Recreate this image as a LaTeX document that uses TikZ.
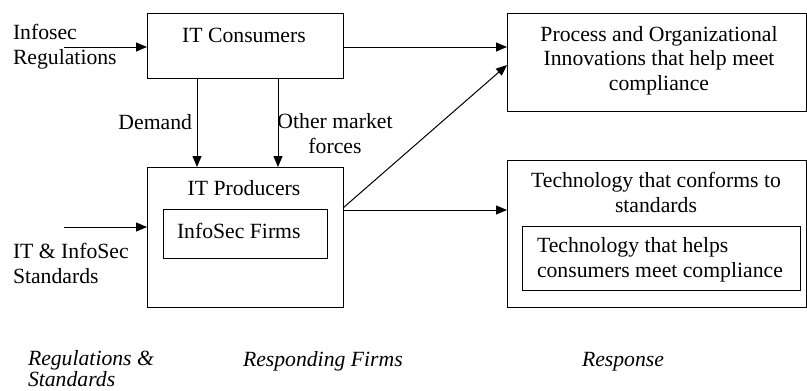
\documentclass[tikz,border=0pt]{standalone}
\usepackage{fontspec}
\setmainfont{Liberation Serif}
\usetikzlibrary{arrows.meta}
\begin{document}
\begin{tikzpicture}[x=1pt,y=-1pt,
  font=\fontsize{21.7}{24.5}\selectfont,
  line width=1pt,
  box/.style={draw, rectangle, inner sep=0pt, outer sep=0pt},
  txt/.style={inner sep=0pt, outer sep=0pt, anchor=base},
  caption/.style={txt, anchor=base west, font=\fontsize{21.7}{21}\selectfont\itshape},
  arr/.style={-{Triangle[length=11pt,width=9pt]}},
]
\useasboundingbox (0,0) rectangle (807,391);

% boxes
\node[box, minimum width=196pt, minimum height=65pt]  (cons)  at (245,45.5) {};
\node[box, minimum width=196pt, minimum height=140pt] (prod)  at (245,237) {};
\node[box, minimum width=164pt, minimum height=49pt]  (firms) at (245,233.5) {};
\node[box, minimum width=299pt, minimum height=98pt]  (proc)  at (656.5,62) {};
\node[box, minimum width=299pt, minimum height=147pt] (tech)  at (656.5,233.5) {};
\node[box, minimum width=278pt, minimum height=64pt]  (help)  at (661,258) {};

% box texts (multi-line nodes sit on the baseline of their last line)
\node[txt] (consT) at (244,42) {IT Consumers};
\node[txt] (prodT) at (244,195) {IT Producers};
\node[txt, anchor=base west] (firmsT) at (177,238) {InfoSec Firms};
\node[txt, align=center] (procT) at (659,90) {Process and Organizational\\Innovations that help meet\\compliance};
\node[txt, align=center] (techT) at (656,212) {Technology that conforms to\\standards};
\node[txt, anchor=base west, align=left] (helpT) at (537,277) {Technology that helps\\consumers meet compliance};

% inputs
\node[txt, anchor=base west, align=left] (regT) at (13,64) {Infosec\\Regulations};
\node[txt, anchor=base west, align=left] (stdT) at (13,283) {IT \& InfoSec\\Standards};
\coordinate (regIn) at (64,47);
\coordinate (stdIn) at (64,227);

% connectors
\draw[arr] (regIn) -- (regIn -| cons.west);
\draw[arr] (stdIn) -- (stdIn -| prod.west);
\draw[arr] ([xshift=-48pt]cons.south) -- ([xshift=-48pt]prod.north);
\draw[arr] ([xshift=33pt]cons.south) -- ([xshift=33pt]prod.north);
\draw[arr] (cons.east |- regIn) -- (proc.west |- regIn);
\draw[arr] ([yshift=29pt]prod.east) -- ([yshift=-3pt]proc.west);
\draw[arr] ([yshift=27pt]prod.east) -- ([yshift=27pt]prod.east -| tech.west);

% connector labels
\node[txt, anchor=base east] (demT) at (192,129) {Demand};
\node[txt, align=center] (othT) at (335,153) {Other market\\forces};

% column captions
\node[caption, align=left] (capReg) at (28,386) {Regulations \&\\Standards};
\node[caption] (capFirm) at (243,366) {Responding Firms};
\node[caption] (capResp) at (582,366) {Response};
\end{tikzpicture}
\end{document}
